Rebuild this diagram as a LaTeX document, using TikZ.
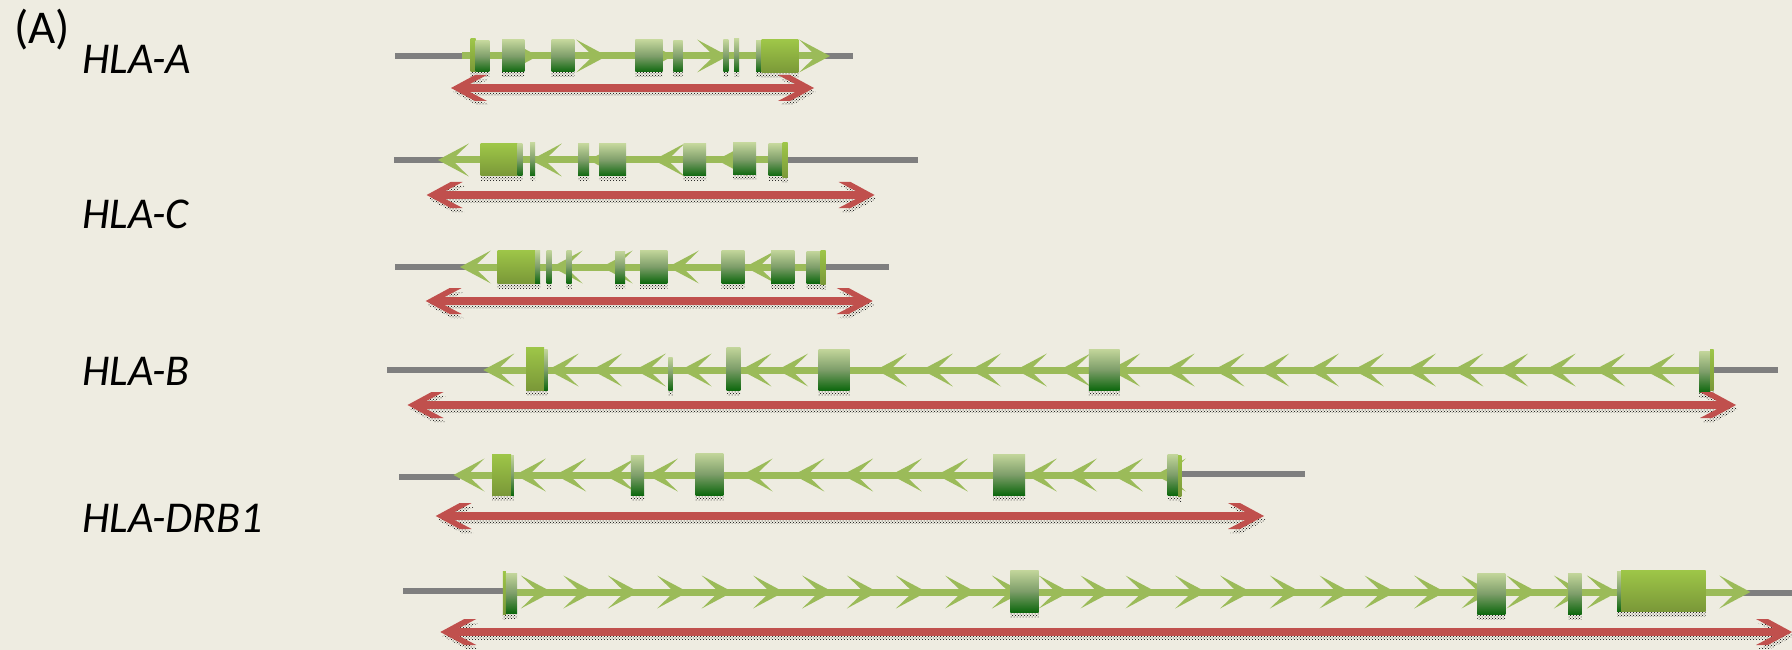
\documentclass[tikz,border=0pt]{standalone}
\usepackage{fontspec}
\setmainfont{Carlito}
\usetikzlibrary{patterns}
\definecolor{bgc}{HTML}{EEECE1}
\definecolor{gcol}{HTML}{9BBB59}
\definecolor{redc}{HTML}{C0504D}
\definecolor{grayc}{HTML}{7F7F7F}
\definecolor{exlight}{HTML}{C3D69B}
\definecolor{exmid}{HTML}{7E9E6A}
\definecolor{exdark}{HTML}{0E680E}
\definecolor{brlight}{HTML}{9EC648}
\definecolor{brdark}{HTML}{7A9838}
\tikzset{
  lbl/.style={inner sep=0pt, anchor=base west, font=\itshape\fontsize{44}{52}\selectfont},
  shadowpat/.style={pattern=crosshatch dots, pattern color=black},
}
% gray genomic line
\newcommand{\gline}[3]{\fill[grayc] (#1,{#3-3}) rectangle (#2,{#3+3});}
% green gene line
\newcommand{\grline}[3]{\fill[gcol] (#1,{#3-3.5}) rectangle (#2,{#3+3.5});}
% chevrons
\newcommand{\chevR}[2]{\fill[gcol] (#1,#2) -- ({#1-31},{#2-16.5}) -- ({#1-14},#2) -- ({#1-31},{#2+16.5}) -- cycle;}
\newcommand{\chevL}[2]{\fill[gcol] (#1,#2) -- ({#1+31},{#2-16.5}) -- ({#1+14},#2) -- ({#1+31},{#2+16.5}) -- cycle;}
% exons: x1 x2 ytop ybottom
\newcommand{\exg}[4]{\fill[shadowpat] (#1,#4) rectangle (#2,{#4+5});
  \shade[top color=exlight, bottom color=exdark, middle color=exmid] (#1,#3) rectangle (#2,#4);}
\newcommand{\exb}[4]{\fill[shadowpat] (#1,#4) rectangle (#2,{#4+5});
  \shade[top color=brlight, bottom color=brdark] (#1,#3) rectangle (#2,#4);}
% red double arrow: xa xb y style
\newcommand{\rarrp}[4]{\fill[#4] (#1,#3) -- ({#1+24},{#3-13}) -- ({#1+36},{#3-13}) -- ({#1+18.5},{#3-3.8}) -- ({#2-18.5},{#3-3.8}) -- ({#2-36},{#3-13}) -- ({#2-24},{#3-13}) -- (#2,#3) -- ({#2-24},{#3+13}) -- ({#2-36},{#3+13}) -- ({#2-18.5},{#3+3.8}) -- ({#1+18.5},{#3+3.8}) -- ({#1+36},{#3+13}) -- ({#1+24},{#3+13}) -- cycle;}
\newcommand{\redarr}[3]{\rarrp{#1}{#2}{#3}{shadowpat, shift={(2,4)}}\rarrp{#1}{#2}{#3}{redc}}
\begin{document}
\begin{tikzpicture}[x=1pt,y=-1pt]
\fill[bgc] (0,0) rectangle (1792,650);
\useasboundingbox (0,0) rectangle (1792,650);

% labels
\node[inner sep=0pt, anchor=base west, font=\fontsize{47}{54}\selectfont] (panel) at (14,44) {(A)};
\node[lbl] (hlaa) at (82,74) {HLA-A};
\node[lbl] (hlac) at (82,228) {HLA-C};
\node[lbl] (hlab) at (82,385) {HLA-B};
\node[lbl] (hladrb) at (82,532) {HLA-DRB1};

% ---------- Track 1 (HLA-A) ----------
\gline{395}{853}{56}
\grline{462}{820}{56}
\foreach \t in {538,607,673,728,830} {\chevR{\t}{56}}
\exb{470.7}{475.7}{39}{72}
\exg{475.7}{489.3}{41}{72}
\exg{502}{524.3}{40}{72}
\exg{551.7}{574.3}{40}{72}
\exg{635.3}{662.7}{40}{72}
\exg{673.3}{682.7}{41}{72}
\exg{723.3}{728.3}{40}{72}
\exg{734}{739}{39}{72}
\exg{756}{761.7}{41}{72}
\exb{761.7}{798.3}{40}{73}
\redarr{451}{814}{88}

% ---------- Track 2 (HLA-C) ----------
\gline{394}{917.7}{160}
\grline{447}{787}{160}
\foreach \t in {437.9,530.8,588.7,653.6,716.7} {\chevL{\t}{160}}
\exb{480.7}{517.5}{144}{176}
\exg{517.5}{522.4}{144}{176}
\exg{530.1}{535}{143}{176}
\exg{578.2}{589}{144}{176}
\exg{599.2}{626.2}{144}{176}
\exg{683.7}{706.2}{144}{176}
\exg{733.2}{756}{143}{175}
\exg{768.6}{782.3}{144}{176}
\exb{782.7}{787.6}{143}{178}
\redarr{426.6}{874.6}{195}

% ---------- Track 3 (HLA-C) ----------
\gline{395}{889}{267}
\grline{470}{825.7}{267}
\foreach \t in {460,551.7,601.7,668,745} {\chevL{\t}{267}}
\exb{497.7}{535}{250}{283}
\exg{535}{540}{250}{283}
\exg{546.7}{551.7}{250}{283}
\exg{566.7}{571.7}{250}{283}
\exg{615}{625}{251}{283}
\exg{640}{667.3}{250}{283}
\exg{721.7}{744.3}{250}{283}
\exg{771}{794.3}{250}{283}
\exg{806.7}{820.7}{251}{283}
\exb{820.7}{825.7}{250}{284}
\redarr{425.7}{872.7}{301}

% ---------- Track 4 (HLA-B) ----------
\gline{387}{1778}{370}
\grline{493}{1699}{370}
\foreach \t in {483.3,547.6,591.2,634.8,680.7,740.4,777.2,875.9,921.8,970,1015.9,1059.5,1109.2,1163.6,1213.3,1258.2,1307.9,1352.9,1404.9,1452.3,1497.2,1544.6,1594.2,1643.9} {\chevL{\t}{370}}
\exb{526}{544}{347}{390}
\exg{544}{547.6}{349}{390}
\exg{668.3}{672.5}{357}{390}
\exg{726.6}{740.4}{347}{390}
\exg{818.5}{849.7}{349}{390}
\exg{1088.8}{1119.6}{349}{390}
\exg{1699.3}{1710.2}{351}{392}
\exb{1710.2}{1713.5}{349}{390}
\redarr{407.5}{1736}{405}

% ---------- Track 5 (HLA-DRB1) ----------
\gline{399}{460}{476.5}
\gline{1181}{1305}{473.5}
\grline{463}{1181}{475}
\foreach \t in {453.5,514.9,555.1,603.9,646.9,741.7,793.3,842.1,890.9,936.8,1025.8,1066,1111.9,1155} {\chevL{\t}{475}}
\exb{492}{511}{454}{495}
\exg{511}{513.8}{455}{495}
\exg{630.9}{644.1}{455}{495}
\exg{695.7}{723.3}{453}{495}
\exg{993.1}{1025.2}{454}{495}
\exg{1167.6}{1178}{454}{495}
\exb{1178}{1181.4}{455}{496}
\redarr{435.7}{1264}{516}

% ---------- Track 6 ----------
\gline{403}{503}{591}
\gline{1705}{1792}{593}
\grline{505}{1740}{592}
\foreach \t in {551.9,594.3,638.9,688,732.7,784,833.1,877.8,926.9,976,1022.9,1069.7,1111.5,1156.5,1206.2,1251.1,1300.8,1350.5,1395.5,1445.2,1492.5,1537.5,1584.8,1617.9,1750.4} {\chevR{\t}{592}}
\exb{502.8}{505.9}{571}{614}
\exg{505.9}{517}{573}{613}
\exg{1010.4}{1038.5}{570}{612}
\exg{1477.4}{1505.3}{573}{614}
\exg{1568.2}{1581.5}{573}{614}
\exg{1617}{1621.2}{571}{611}
\exb{1621.2}{1705.5}{570}{611}
\redarr{440.3}{1792}{632}
\end{tikzpicture}
\end{document}
